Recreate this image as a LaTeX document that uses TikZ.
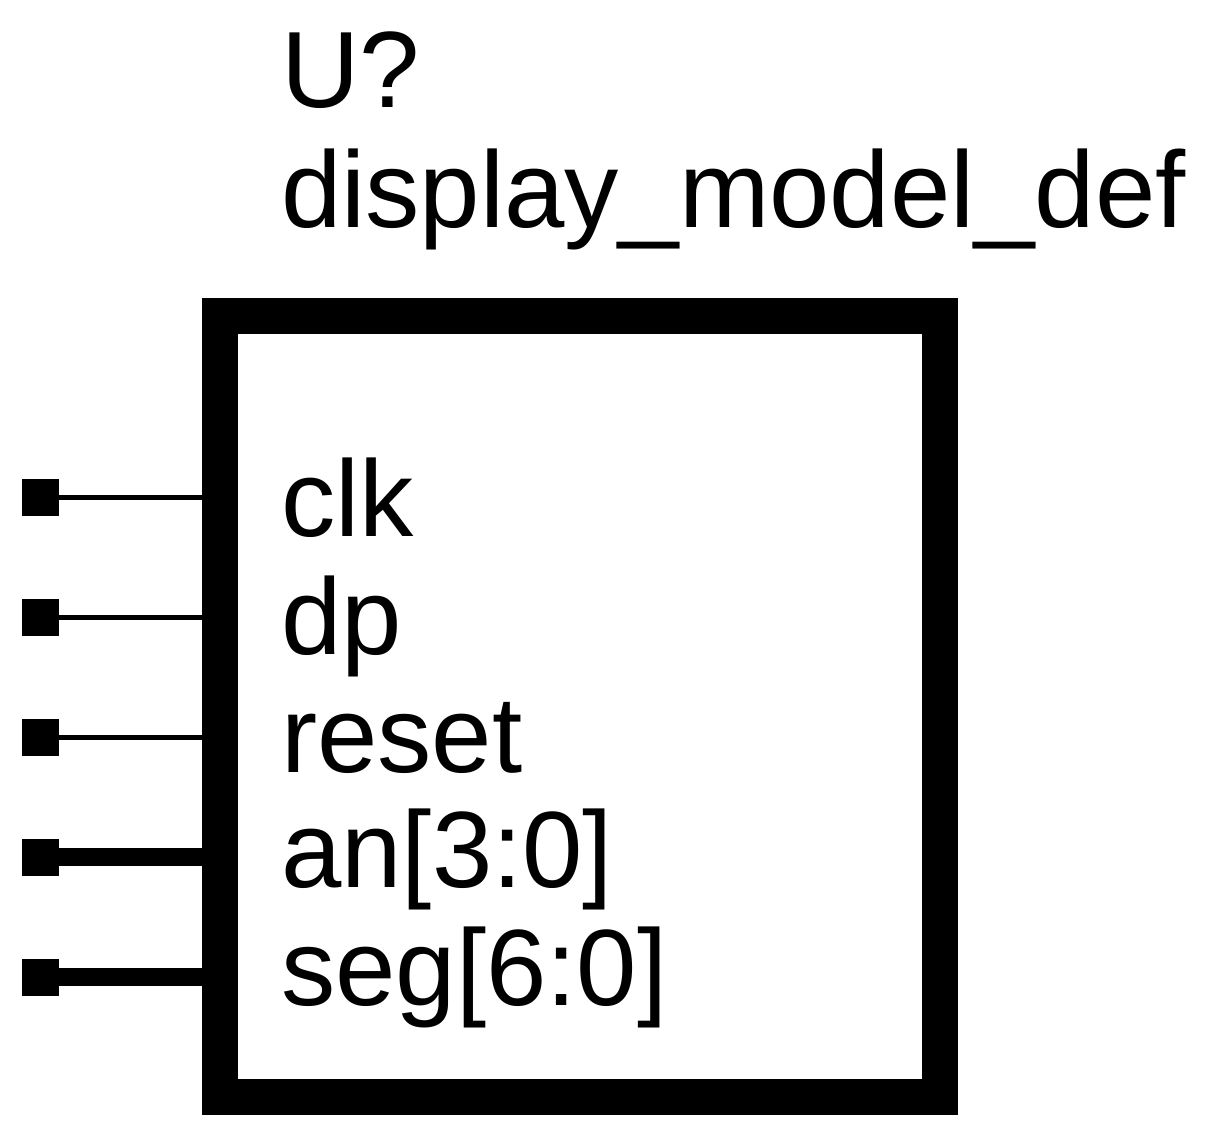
\documentclass[tikz,border=0pt]{standalone}
\usepackage{fontspec}
\setmainfont{Liberation Sans}
\usetikzlibrary{positioning}
\tikzset{
  body/.style = {draw, line width = 36, minimum width = 720, minimum height = 781, inner sep = 0},
  pad/.style = {fill, minimum size = 37, inner sep = 0},
  wire/.style = {line width = #1},
  label/.style = {font = \fontsize{108.5}{130}\selectfont, anchor = base west, inner sep = 0}
}
\begin{document}
\begin{tikzpicture}[x=1pt,y=-1pt]
  \useasboundingbox (0,0) rectangle (1217,1147);
  \node[body] (sym) at (580,706.5) {};
  \node[label] (ref) at (281,108) {U?};
  \node[label] (name) at (281,228) {display\_model\_def};
  \foreach \n/\m/\yi/\yt/\w in {clk/clk/497/536/5,dp/dp/617/654/5,reset/reset/737/772/5,an/an[3:0]/857/887/18,seg/seg[6:0]/977/1005/18}{
    \node[pad] (pad-\n) at (40,\yi) {};
    \coordinate (end-\n) at (202,\yi);
    \draw[wire=\w] (pad-\n.center) -- (end-\n);
    \node[label] (txt-\n) at (281,\yt) {\m};
  }
\end{tikzpicture}
\end{document}
